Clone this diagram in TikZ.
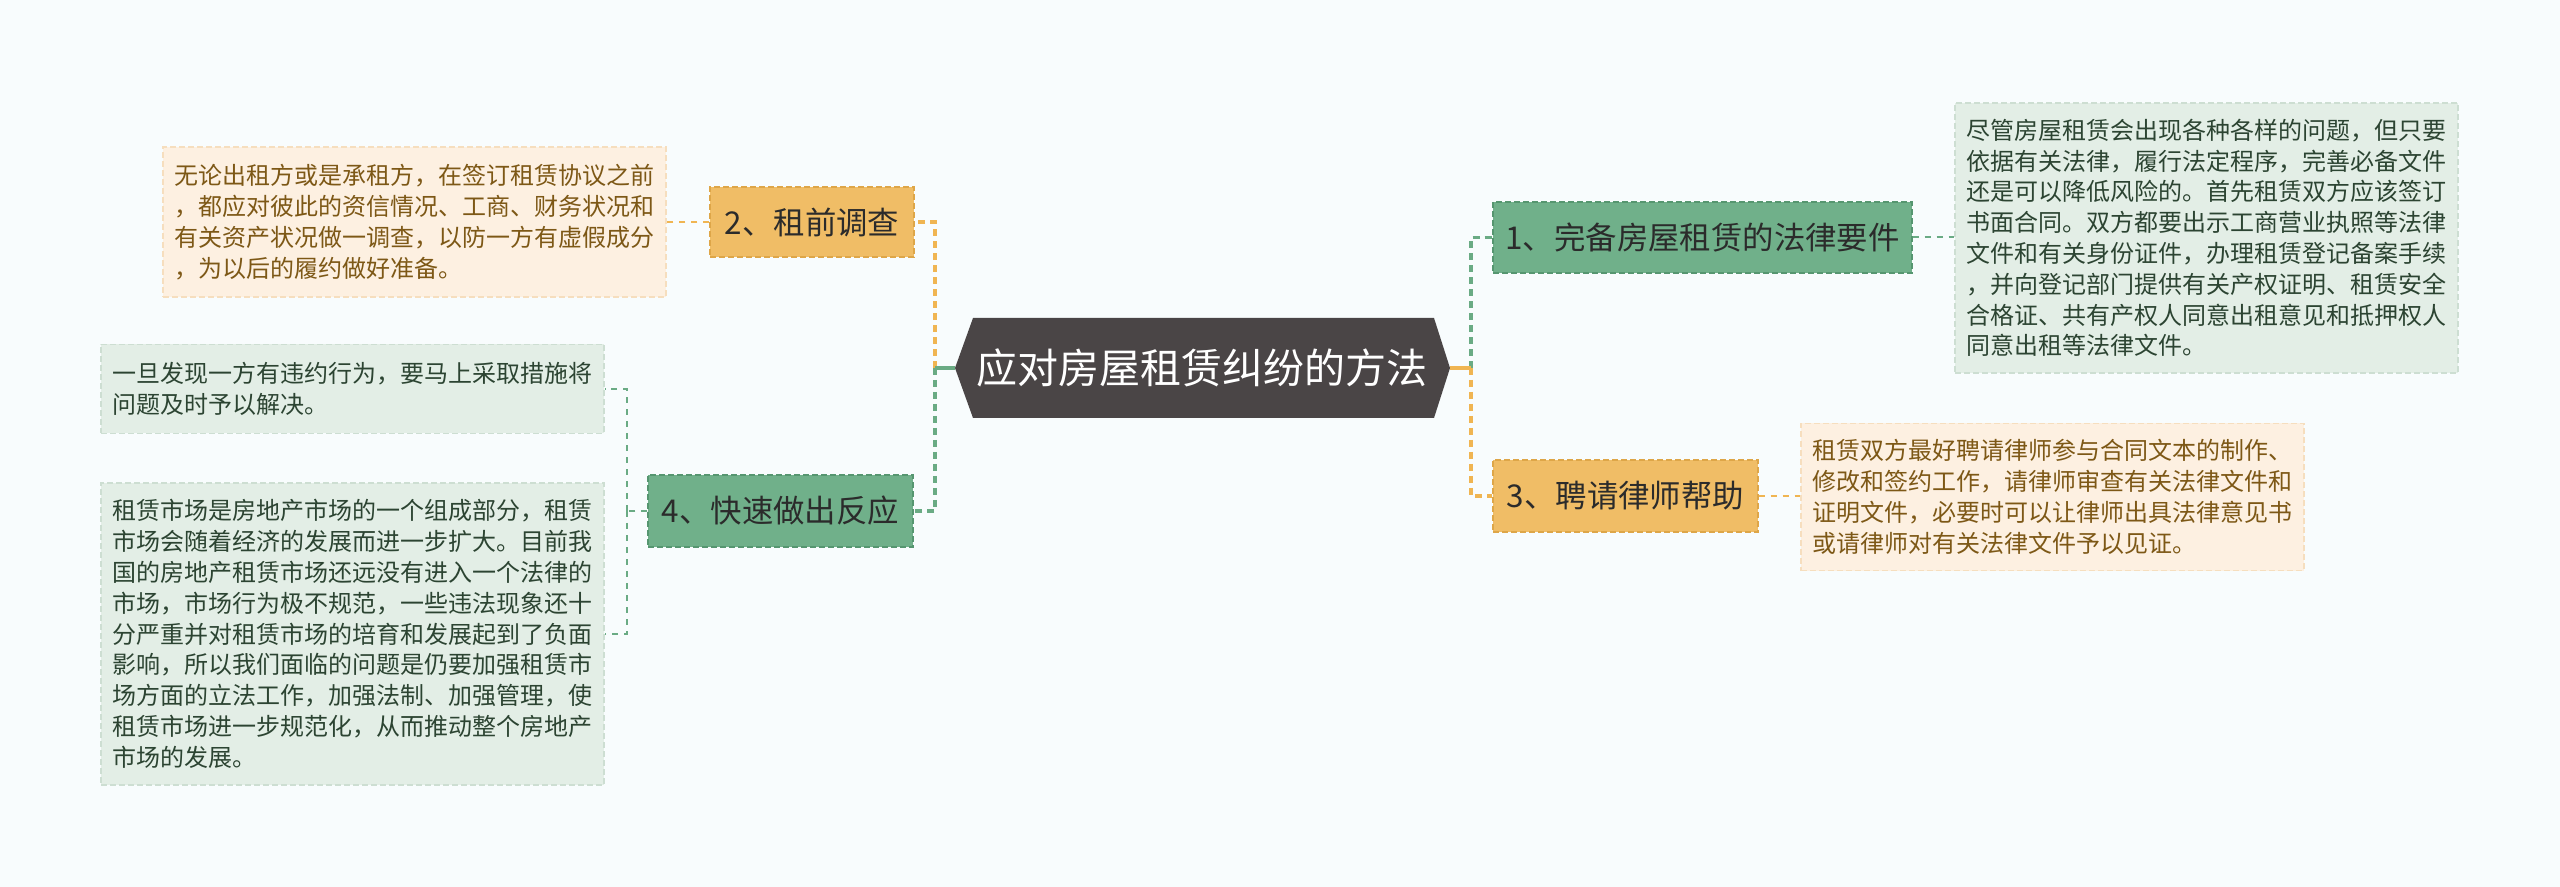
\documentclass[tikz,border=0pt]{standalone}
\usepackage{fontspec}
\setmainfont{Noto Sans CJK SC}
\usetikzlibrary{calc}
\definecolor{bgc}{RGB}{248,252,253}
\definecolor{hexc}{RGB}{74,69,70}
\definecolor{ofill}{RGB}{240,189,102}
\definecolor{oedge}{RGB}{222,166,72}
\definecolor{gfill}{RGB}{112,176,138}
\definecolor{gedge}{RGB}{86,150,112}
\definecolor{olfill}{RGB}{253,240,225}
\definecolor{oledge}{RGB}{246,222,190}
\definecolor{oltext}{RGB}{125,88,22}
\definecolor{glfill}{RGB}{227,238,230}
\definecolor{gledge}{RGB}{205,222,210}
\definecolor{gltext}{RGB}{44,68,50}
\definecolor{oline}{RGB}{240,181,82}
\definecolor{gline}{RGB}{106,171,132}
\definecolor{ntext}{RGB}{43,43,43}
\begin{document}
\begin{tikzpicture}[x=0.5pt,y=-0.5pt,
  branch/.style={inner sep=0pt, draw, dashed, dash pattern=on 3pt off 1.5pt, line width=0.6pt,
    text=ntext, font=\fontsize{15.7pt}{19pt}\selectfont},
  obranch/.style={branch, fill=ofill, draw=oedge},
  gbranch/.style={branch, fill=gfill, draw=gedge},
  leaf/.style={inner sep=0pt, draw, dashed, dash pattern=on 3pt off 1.5pt, line width=0.6pt,
    align=left, minimum width=251.5pt, font=\fontsize{12pt}{15.4pt}\selectfont},
  oleaf/.style={leaf, fill=olfill, draw=oledge, text=oltext},
  gleaf/.style={leaf, fill=glfill, draw=gledge, text=gltext},
  oconn/.style={draw=oline, line width=1.6pt, dash pattern=on 3.5pt off 2.5pt},
  gconn/.style={draw=gline, line width=1.6pt, dash pattern=on 3.5pt off 2.5pt},
  othin/.style={draw=oline, line width=1pt, dash pattern=on 3pt off 3pt},
  gthin/.style={draw=gline, line width=1pt, dash pattern=on 3pt off 3pt},
  ostub/.style={draw=oline, line width=1.6pt},
  gstub/.style={draw=gline, line width=1.6pt}
]
\fill[bgc] (0,0) rectangle (2560,887);
\useasboundingbox (0,0) rectangle (2560,887);

% central hexagon
\coordinate (cl) at (955,368);
\coordinate (cr) at (1450,368);
\fill[hexc] (cl) -- (973,318) -- (1434,318) -- (cr) -- (1434,418) -- (973,418) -- cycle;
\node[text=white, font=\fontsize{20.5pt}{24pt}\selectfont, inner sep=0pt] (c) at (1202,368) {应对房屋租赁纠纷的方法};

% branch nodes
\node[obranch, minimum width=102pt, minimum height=35pt] (n2) at (812,222) {2、租前调查};
\node[gbranch, minimum width=132.5pt, minimum height=36pt] (n4) at (780.5,511) {4、快速做出反应};
\node[gbranch, minimum width=209.5pt, minimum height=35.5pt] (n1) at (1702.5,237.5) {1、完备房屋租赁的法律要件};
\node[obranch, minimum width=132.5pt, minimum height=36pt] (n3) at (1625.5,496) {3、聘请律师帮助};

% leaves
\node[gleaf, minimum height=135pt] (l1) at (2206.5,238) {尽管房屋租赁会出现各种各样的问题，但只要\\依据有关法律，履行法定程序，完善必备文件\\还是可以降低风险的。首先租赁双方应该签订\\书面合同。双方都要出示工商营业执照等法律\\文件和有关身份证件，办理租赁登记备案手续\\，并向登记部门提供有关产权证明、租赁安全\\合格证、共有产权人同意出租意见和抵押权人\\同意出租等法律文件。};
\node[oleaf, minimum height=75pt] (l2) at (414.5,222) {无论出租方或是承租方，在签订租赁协议之前\\，都应对彼此的资信情况、工商、财务状况和\\有关资产状况做一调查，以防一方有虚假成分\\，为以后的履约做好准备。};
\node[gleaf, minimum height=44.5pt] (l4a) at (352.5,389) {一旦发现一方有违约行为，要马上采取措施将\\问题及时予以解决。};
\node[gleaf, minimum height=151pt] (l4b) at (352.5,634) {租赁市场是房地产市场的一个组成部分，租赁\\市场会随着经济的发展而进一步扩大。目前我\\国的房地产租赁市场还远没有进入一个法律的\\市场，市场行为极不规范，一些违法现象还十\\分严重并对租赁市场的培育和发展起到了负面\\影响，所以我们面临的问题是仍要加强租赁市\\场方面的立法工作，加强法制、加强管理，使\\租赁市场进一步规范化，从而推动整个房地产\\市场的发展。};
\node[oleaf, minimum height=73.5pt] (l3) at (2052.5,497) {租赁双方最好聘请律师参与合同文本的制作、\\修改和签约工作，请律师审查有关法律文件和\\证明文件，必要时可以让律师出具法律意见书\\或请律师对有关法律文件予以见证。};

% main connectors
\coordinate (lb) at (935,368);
\coordinate (rb) at (1471,368);
\draw[oconn] (lb) |- (n2.east);
\draw[gconn] (lb) |- (n4.east);
\draw[gstub] (cl) -- (lb);
\draw[gconn] (rb) |- (n1.west);
\draw[oconn] (rb) |- (n3.west);
\draw[ostub] (cr) -- (rb);

% leaf connectors
\draw[othin] (n2.west) -- (l2.east |- n2.west);
\draw[gthin] (n1.east) -- (l1.west |- n1.east);
\draw[othin] (n3.east) -- (l3.west |- n3.east);
\coordinate (b4) at (627,511);
\draw[gthin] (n4.west) -- (b4);
\draw[gthin] (b4) |- (l4a.east);
\draw[gthin] (b4) |- (l4b.east);
\end{tikzpicture}
\end{document}
